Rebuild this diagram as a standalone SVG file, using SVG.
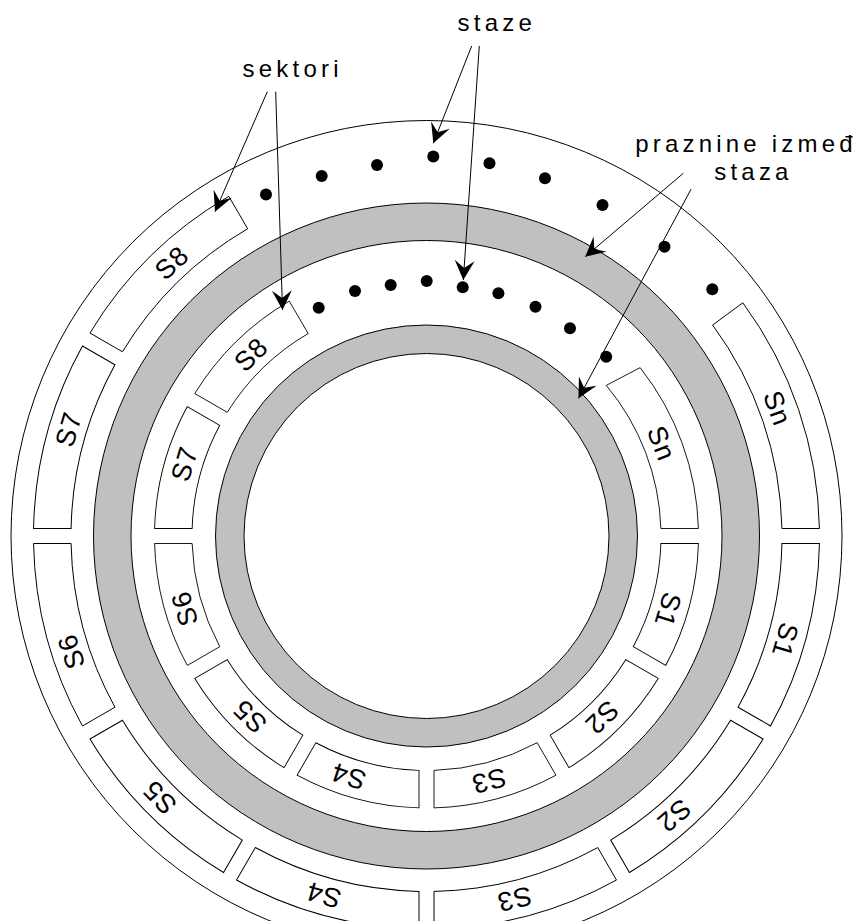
<svg xmlns="http://www.w3.org/2000/svg" width="856" height="921" viewBox="0 0 856 921">
<style>
.box{fill:#fff;stroke:#000;stroke-width:1}
.ibox{fill:#fff;stroke:#000;stroke-width:0.9}
.gray{fill:#c0c0c0;stroke:#000;stroke-width:1}
.wh{fill:#fff;stroke:#000;stroke-width:1}
.lbl{font-family:"Liberation Sans",Arial,sans-serif;font-size:27px;letter-spacing:1px;fill:#000;text-anchor:middle}
.ttl{font-family:"Liberation Sans",Arial,sans-serif;font-size:24px;letter-spacing:4.2px;fill:#000}
.dot{fill:#000}
.arr{fill:none;stroke:#000;stroke-width:1;marker-end:url(#ah)}
</style>
<defs>
<marker id="ah" markerUnits="userSpaceOnUse" markerWidth="24" markerHeight="24" viewBox="-22 -12 24 24" refX="0" refY="0" orient="auto">
<path d="M0,0 L-19.5,-10 L-12,0 L-19.5,10 Z" fill="#000"/>
</marker>
<path id="ob" d="M392.93,-7.5 A393,393 0 0 0 344.04,-189.97 L311.55,-171.22 A355.5,355.5 0 0 1 355.42,-7.5 Z"/>
<path id="ib" d="M271.9,-7.5 A272,272 0 0 0 239.21,-129.45 L206.72,-110.7 A234.5,234.5 0 0 1 234.38,-7.5 Z"/>
</defs>
<rect width="856" height="921" fill="#fff"/>
<g id="disk" transform="translate(426.5,536)">
<circle r="415.5" class="wh"/>
<circle r="333" class="gray"/>
<circle r="295.5" class="wh"/>
<circle r="211" class="gray"/>
<circle r="182.5" class="wh"/>
</g>
<g id="outer-S1" transform="translate(426.5,536)"><use href="#ob" class="box" transform="rotate(30)"/><text class="lbl" transform="rotate(106.2) translate(0,-374)" dy="9.7">S1</text></g>
<g id="outer-S2" transform="translate(426.5,536)"><use href="#ob" class="box" transform="rotate(60)"/><text class="lbl" transform="rotate(138.5) translate(0,-374)" dy="9.7">S2</text></g>
<g id="outer-S3" transform="translate(426.5,536)"><use href="#ob" class="box" transform="rotate(90)"/><text class="lbl" transform="rotate(166.4) translate(0,-374)" dy="9.7">S3</text></g>
<g id="outer-S4" transform="translate(426.5,536)"><use href="#ob" class="box" transform="rotate(120)"/><text class="lbl" transform="rotate(-164) translate(0,-374)" dy="9.7">S4</text></g>
<g id="outer-S5" transform="translate(426.5,536)"><use href="#ob" class="box" transform="rotate(150)"/><text class="lbl" transform="rotate(-134.4) translate(0,-374)" dy="9.7">S5</text></g>
<g id="outer-S6" transform="translate(426.5,536)"><use href="#ob" class="box" transform="rotate(180)"/><text class="lbl" transform="rotate(-108) translate(0,-374)" dy="9.7">S6</text></g>
<g id="outer-S7" transform="translate(426.5,536)"><use href="#ob" class="box" transform="rotate(210)"/><text class="lbl" transform="rotate(-73.4) translate(0,-374)" dy="9.7">S7</text></g>
<g id="outer-S8" transform="translate(426.5,536)"><path class="box" d="M-336.54,-202.96 A393,393 0 0 1 -197.69,-339.66 L-178.82,-307.25 A355.5,355.5 0 0 0 -304.05,-184.21 Z"/><text class="lbl" transform="rotate(-43) translate(0,-374)" dy="9.7">S8</text></g>
<g id="outer-Sn" transform="translate(426.5,536)"><path class="box" d="M392.93,-7.5 A393,393 0 0 0 316.32,-233.21 L286.14,-210.96 A355.5,355.5 0 0 1 355.42,-7.5 Z"/><text class="lbl" transform="rotate(70) translate(0,-374)" dy="9.7">Sn</text></g>
<g id="inner-S1" transform="translate(426.5,536)"><use href="#ib" class="ibox" transform="rotate(30)"/><text class="lbl" transform="rotate(107) translate(0,-253)" dy="9.7">S1</text></g>
<g id="inner-S2" transform="translate(426.5,536)"><use href="#ib" class="ibox" transform="rotate(60)"/><text class="lbl" transform="rotate(136) translate(0,-253)" dy="9.7">S2</text></g>
<g id="inner-S3" transform="translate(426.5,536)"><use href="#ib" class="ibox" transform="rotate(90)"/><text class="lbl" transform="rotate(165.7) translate(0,-253)" dy="9.7">S3</text></g>
<g id="inner-S4" transform="translate(426.5,536)"><use href="#ib" class="ibox" transform="rotate(120)"/><text class="lbl" transform="rotate(-162) translate(0,-253)" dy="9.7">S4</text></g>
<g id="inner-S5" transform="translate(426.5,536)"><use href="#ib" class="ibox" transform="rotate(150)"/><text class="lbl" transform="rotate(-135.6) translate(0,-253)" dy="9.7">S5</text></g>
<g id="inner-S6" transform="translate(426.5,536)"><use href="#ib" class="ibox" transform="rotate(180)"/><text class="lbl" transform="rotate(-106.7) translate(0,-253)" dy="9.7">S6</text></g>
<g id="inner-S7" transform="translate(426.5,536)"><use href="#ib" class="ibox" transform="rotate(210)"/><text class="lbl" transform="rotate(-73.4) translate(0,-253)" dy="9.7">S7</text></g>
<g id="inner-S8" transform="translate(426.5,536)"><path class="ibox" d="M-231.72,-142.44 A272,272 0 0 1 -137.23,-234.84 L-118.31,-202.47 A234.5,234.5 0 0 0 -199.23,-123.69 Z"/><text class="lbl" transform="rotate(-44) translate(0,-253)" dy="9.7">S8</text></g>
<g id="inner-Sn" transform="translate(426.5,536)"><path class="ibox" d="M271.9,-7.5 A272,272 0 0 0 213.64,-168.36 L179.74,-150.61 A234.5,234.5 0 0 1 234.38,-7.5 Z"/><text class="lbl" transform="rotate(68.5) translate(0,-253)" dy="9.7">Sn</text></g>
<g id="tracks">
<circle class="dot" cx="266" cy="194.5" r="6"/>
<circle class="dot" cx="321.7" cy="176" r="6"/>
<circle class="dot" cx="377" cy="165" r="6"/>
<circle class="dot" cx="433.3" cy="156.5" r="6"/>
<circle class="dot" cx="489.5" cy="163.3" r="6"/>
<circle class="dot" cx="545" cy="178.3" r="6"/>
<circle class="dot" cx="602.5" cy="205" r="6"/>
<circle class="dot" cx="664.5" cy="246.7" r="6"/>
<circle class="dot" cx="712.3" cy="289.2" r="6"/>
<circle class="dot" cx="318.7" cy="307.7" r="6"/>
<circle class="dot" cx="355" cy="291" r="6"/>
<circle class="dot" cx="390.7" cy="285" r="6"/>
<circle class="dot" cx="426.7" cy="281" r="6"/>
<circle class="dot" cx="462.7" cy="287.3" r="6"/>
<circle class="dot" cx="498.4" cy="293.3" r="6"/>
<circle class="dot" cx="535.5" cy="306.7" r="6"/>
<circle class="dot" cx="570" cy="328.3" r="6"/>
<circle class="dot" cx="606.2" cy="356.7" r="6"/>
</g>
<g id="connectors">
<line class="arr" x1="471.7" y1="46" x2="433.3" y2="143.3"/>
<line class="arr" x1="479.3" y1="46" x2="463.3" y2="280"/>
<line class="arr" x1="267.3" y1="91.7" x2="215" y2="211.7"/>
<line class="arr" x1="275.7" y1="91.7" x2="282.5" y2="310"/>
<line class="arr" x1="683.3" y1="173.3" x2="585.2" y2="256.7"/>
<line class="arr" x1="691" y1="189.3" x2="578.5" y2="398.3"/>
</g>
<g id="labels">
<text class="ttl" x="457.6" y="31">staze</text>
<text class="ttl" x="242.6" y="76.7">sektori</text>
<text class="ttl" x="635.2" y="152">praznine izmeđ</text>
<text class="ttl" x="714.3" y="179.5">staza</text>
</g>
</svg>
